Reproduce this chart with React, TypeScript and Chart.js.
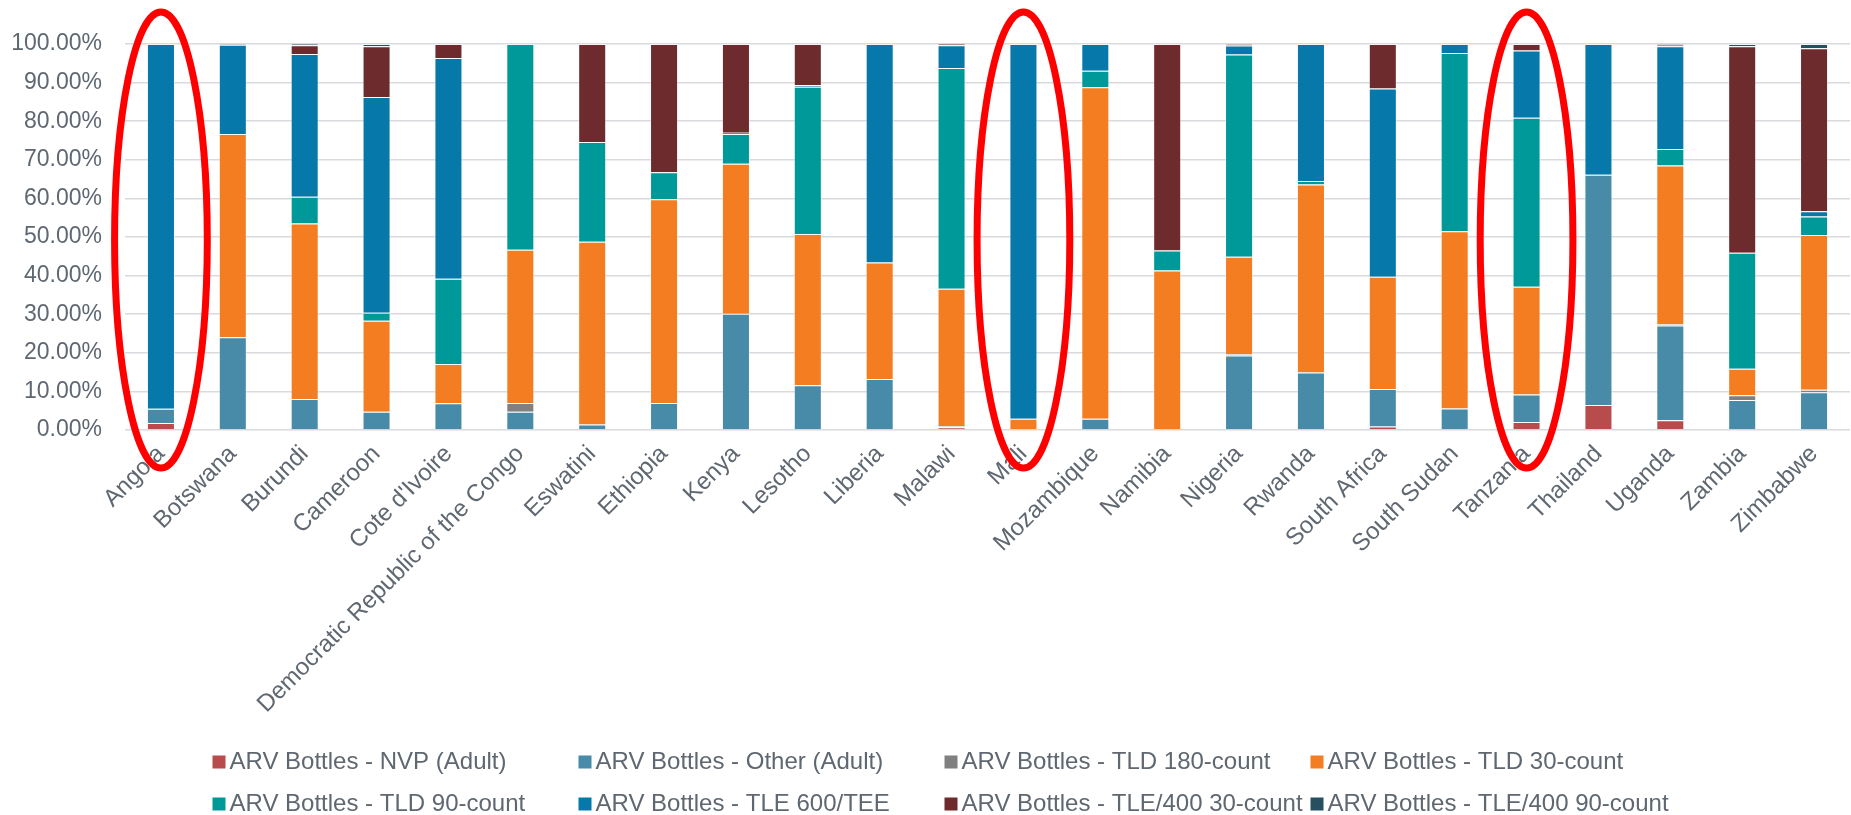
import React, { useEffect, useRef } from "react";
import { Chart, registerables } from "chart.js";

Chart.register(...registerables);

const countries = [
  "Angola", "Botswana", "Burundi", "Cameroon", "Cote d'Ivoire",
  "Democratic Republic of the Congo", "Eswatini", "Ethiopia", "Kenya", "Lesotho",
  "Liberia", "Malawi", "Mali", "Mozambique", "Namibia", "Nigeria", "Rwanda",
  "South Africa", "South Sudan", "Tanzania", "Thailand", "Uganda", "Zambia", "Zimbabwe",
];

const nvpAdult = [1.8, 0.2, 0, 0.2, 0, 0, 0, 0.2, 0, 0, 0, 0.7, 0, 0, 0, 0, 0, 0.9, 0, 2.1, 6.5, 2.5, 0, 0.2];
const otherAdult = [3.7, 23.8, 8.0, 4.5, 6.9, 4.7, 1.4, 6.8, 30.1, 11.6, 13.2, 0.3, 0, 2.9, 0, 19.3, 14.9, 9.7, 5.6, 7.1, 59.6, 24.6, 7.8, 9.6];
const tld180 = [0, 0, 0, 0, 0, 2.3, 0, 0, 0, 0, 0, 0, 0, 0, 0, 0.4, 0, 0, 0, 0, 0, 0.3, 1.2, 0.6];
const tld30 = [0, 52.7, 45.5, 23.6, 10.2, 39.7, 47.4, 52.8, 38.9, 39.2, 30.2, 35.6, 2.9, 85.9, 41.3, 25.2, 48.7, 29.1, 45.9, 27.9, 0, 41.1, 6.9, 40.1];
const tld90 = [0, 0, 6.9, 2.1, 22.1, 53.3, 25.8, 7.0, 7.7, 38.1, 0, 57.2, 0, 4.3, 5.2, 52.4, 0.9, 0, 46.2, 43.8, 0, 4.3, 30.0, 4.8];
const tle600 = [94.5, 23.1, 37.0, 55.9, 57.2, 0, 0, 0, 0.3, 0.5, 56.6, 5.9, 97.1, 6.9, 0, 2.3, 35.5, 48.8, 2.3, 17.4, 33.9, 26.6, 0, 1.4];
const tle400_30 = [0, 0, 2.3, 13.1, 3.6, 0, 25.4, 33.2, 23.0, 10.6, 0, 0.3, 0, 0, 53.5, 0.4, 0, 11.5, 0, 1.7, 0, 0.4, 53.5, 42.2];
const tle400_90 = [0, 0.2, 0.3, 0.6, 0, 0, 0, 0, 0, 0, 0, 0, 0, 0, 0, 0, 0, 0, 0, 0, 0, 0.2, 0.6, 1.1];

const seriesLabels = [
  "ARV Bottles - NVP (Adult)",
  "ARV Bottles - Other (Adult)",
  "ARV Bottles - TLD 180-count",
  "ARV Bottles - TLD 30-count",
  "ARV Bottles - TLD 90-count",
  "ARV Bottles - TLE 600/TEE",
  "ARV Bottles - TLE/400 30-count",
  "ARV Bottles - TLE/400 90-count",
];
const seriesColors = ["#b84c4d", "#478ba9", "#808080", "#f47d21", "#009999", "#0678a9", "#6e2b2e", "#26505f"];
const seriesValues = [nvpAdult, otherAdult, tld180, tld30, tld90, tle600, tle400_30, tle400_90];

const highlighted = ["Angola", "Mali", "Tanzania"];
const yTicks = [0, 10, 20, 30, 40, 50, 60, 70, 80, 90, 100];

const TEXT = "#5f6770";
const FONT = "Arial, 'Liberation Sans', sans-serif";

const ellipsePlugin = {
  id: "ellipses",
  afterDatasetsDraw(chart: any) {
    const { ctx, chartArea, scales } = chart;
    const x = scales.x;
    const catW = (x.getPixelForValue(1) - x.getPixelForValue(0));
    ctx.save();
    ctx.strokeStyle = "#ff0000";
    ctx.lineWidth = 7;
    highlighted.forEach((name) => {
      const i = countries.indexOf(name);
      const cx = x.getPixelForValue(i);
      const cy = (chartArea.top + chartArea.bottom) / 2 + 3;
      const ry = (chartArea.bottom - chartArea.top) / 2 + 35;
      const rx = catW * 0.645;
      ctx.beginPath();
      ctx.ellipse(cx, cy, rx, ry, 0, 0, Math.PI * 2);
      ctx.stroke();
    });
    ctx.restore();
  },
};

const gridLegendPlugin = {
  id: "gridLegend",
  afterDraw(chart: any) {
    const { ctx } = chart;
    const startX = 212.5;
    const colW = 366;
    const rowY = [762, 804];
    const box = 13;
    ctx.save();
    ctx.font = `24px ${FONT}`;
    ctx.textBaseline = "middle";
    ctx.textAlign = "left";
    chart.data.datasets.forEach((ds: any, i: number) => {
      const col = i % 4;
      const row = Math.floor(i / 4);
      const x0 = startX + col * colW;
      const y0 = rowY[row];
      ctx.fillStyle = ds.backgroundColor;
      ctx.fillRect(x0, y0 - box / 2, box, box);
      ctx.fillStyle = TEXT;
      ctx.fillText(ds.label, x0 + box + 4, y0);
    });
    ctx.restore();
  },
};

export default function App() {
  const ref = useRef<HTMLCanvasElement | null>(null);
  useEffect(() => {
    if (!ref.current) return;
    const chart = new Chart(ref.current, {
      type: "bar",
      data: {
        labels: countries,
        datasets: seriesValues.map((vals, i) => ({
          label: seriesLabels[i],
          data: vals,
          backgroundColor: seriesColors[i],
          borderColor: "rgba(255,255,255,0.35)",
          borderWidth: 1,
          barPercentage: 0.39,
          categoryPercentage: 1,
        })),
      },
      options: {
        animation: false,
        responsive: true,
        maintainAspectRatio: false,
        layout: { padding: { top: 44, right: 1, left: 0, bottom: 0 } },
        plugins: { legend: { display: false }, tooltip: { enabled: false } },
        scales: {
          x: {
            stacked: true,
            grid: { display: false, drawTicks: false },
            border: { display: false },
            ticks: {
              autoSkip: false,
              minRotation: 45,
              maxRotation: 45,
              padding: 10,
              color: TEXT,
              font: { size: 24, family: FONT },
            },
            afterFit: (s: any) => { s.height = 385; },
          },
          y: {
            stacked: true,
            min: 0,
            max: 100,
            afterBuildTicks: (s: any) => { s.ticks = yTicks.map((v) => ({ value: v })); },
            grid: { color: "#d9dadd", lineWidth: 1.6, drawTicks: false },
            border: { display: false },
            ticks: {
              padding: 23,
              color: TEXT,
              font: { size: 23, family: FONT },
              callback: (v: any) => Number(v).toFixed(2) + "%",
            },
            afterFit: (s: any) => { s.width = 125; },
          },
        },
      },
      plugins: [ellipsePlugin, gridLegendPlugin],
    });
    return () => chart.destroy();
  }, []);
  return (
    <div style={{ position: "fixed", left: 0, top: 0, width: "1851px", height: "815px", background: "#fff" }}>
      <canvas ref={ref} />
    </div>
  );
}
